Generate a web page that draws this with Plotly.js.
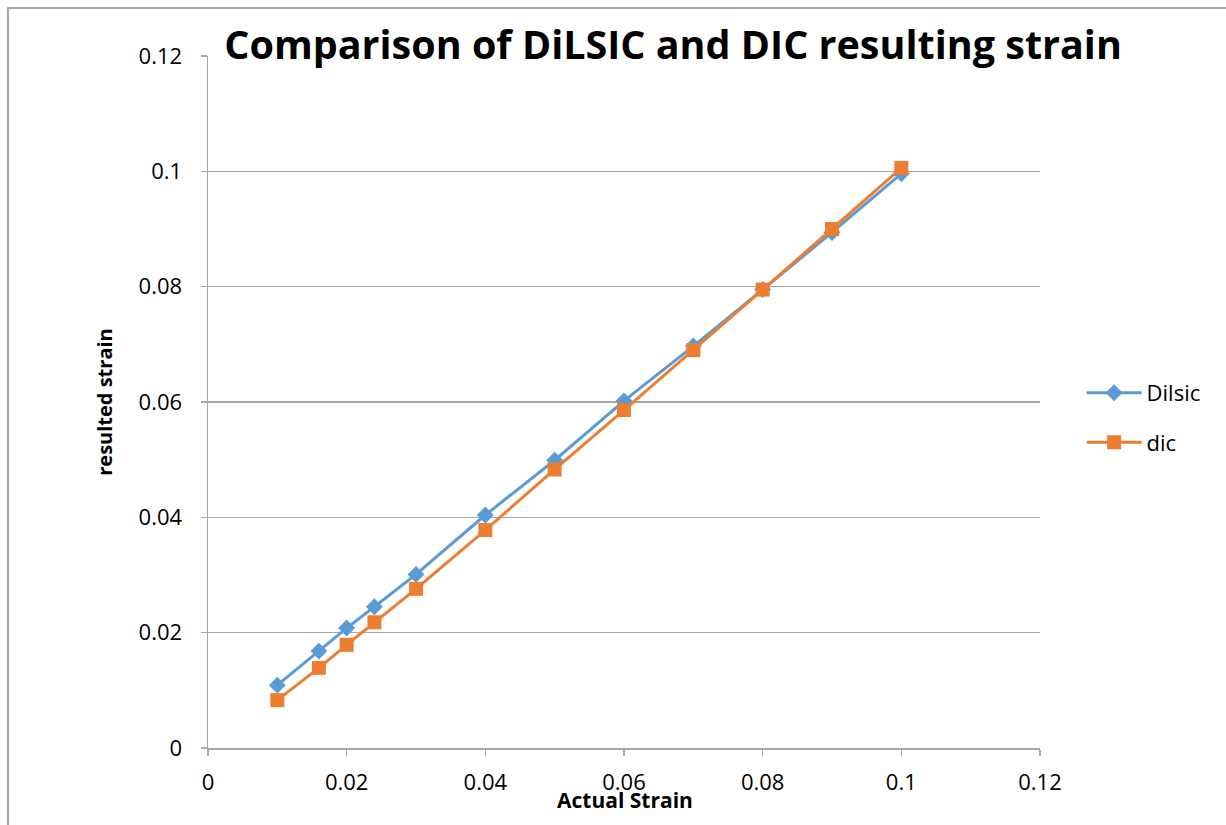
<!DOCTYPE html>
<html>
<head>
<meta charset="utf-8">
<script src="https://cdn.plot.ly/plotly-3.0.1.min.js"></script>
<style>
html,body{margin:0;padding:0;background:#fff;}
#frame{position:absolute;left:7px;top:7px;width:1240px;height:840px;border:2px solid #a6a6a6;box-sizing:border-box;}
#chart{position:absolute;left:0;top:0;width:1226px;height:825px;}
</style>
</head>
<body>
<div id="frame"></div>
<div id="chart"></div>
<script>
const actualStrain = [0.01, 0.016, 0.02, 0.024, 0.03, 0.04, 0.05, 0.06, 0.07, 0.08, 0.09, 0.1];
const dilsic = [0.0109, 0.0168, 0.0208, 0.0245, 0.0301, 0.0404, 0.0499, 0.0602, 0.0697, 0.0795, 0.0894, 0.0996];
const dic = [0.0083, 0.0139, 0.0179, 0.0218, 0.0276, 0.0378, 0.0483, 0.0586, 0.0690, 0.0795, 0.0900, 0.1006];
const tickVals = [0, 0.02, 0.04, 0.06, 0.08, 0.1, 0.12];
const tickText = ["0", "0.02", "0.04", "0.06", "0.08", "0.1", "0.12"];
const xTitle = "Actual Strain";

const font = "Open Sans, Liberation Sans, sans-serif";
const traces = [
  {x: actualStrain, y: dilsic, name: "Dilsic", legendgroup: "a", type: "scatter", mode: "lines+markers",
   line: {color: "#5B9BD5", width: 3}, marker: {symbol: "diamond", size: 13, color: "#5B9BD5"}},
  {x: actualStrain, y: dic, name: "dic", legendgroup: "b", type: "scatter", mode: "lines+markers",
   line: {color: "#ED7D31", width: 3}, marker: {symbol: "square", size: 14, color: "#ED7D31"}}
];
const axisCommon = {
  range: [0, 0.12], tickvals: tickVals, ticktext: tickText,
  showline: true, linecolor: "#a6a6a6", linewidth: 1.5,
  ticks: "outside", ticklen: 6, tickcolor: "#a6a6a6", tickwidth: 1.5,
  tickfont: {family: font, size: 22, color: "#000"}, zeroline: false
};
const layout = {
  width: 1226, height: 825,
  margin: {l: 208, r: 186, t: 56, b: 77},
  paper_bgcolor: "rgba(0,0,0,0)", plot_bgcolor: "rgba(0,0,0,0)",
  title: {text: "<b>Comparison of DiLSIC and DIC resulting strain</b>", font: {family: font, size: 39.5, color: "#000"},
          x: 0.559, xref: "paper", xanchor: "center", y: 0.945, yanchor: "middle"},
  xaxis: Object.assign({}, axisCommon, {showgrid: false, ticklabelstandoff: 8}),
  yaxis: Object.assign({}, axisCommon, {showgrid: true, gridcolor: "#a6a6a6", gridwidth: 1.5, ticklabelstandoff: 14,
          title: {text: "<b>resulted strain</b>", font: {family: font, size: 20, color: "#000"}, standoff: 20}}),
  annotations: [{text: "<b>" + xTitle + "</b>", xref: "paper", yref: "paper", x: 0.501, y: -0.075,
                 xanchor: "center", yanchor: "middle", showarrow: false, font: {family: font, size: 21, color: "#000"}}],
  legend: {x: 1.05, y: 0.477, xanchor: "left", yanchor: "middle", font: {family: font, size: 22, color: "#000"},
           tracegroupgap: 18, itemwidth: 55, bgcolor: "rgba(0,0,0,0)"},
  showlegend: true
};
Plotly.newPlot("chart", traces, layout, {displayModeBar: false, staticPlot: true});
</script>
</body>
</html>
